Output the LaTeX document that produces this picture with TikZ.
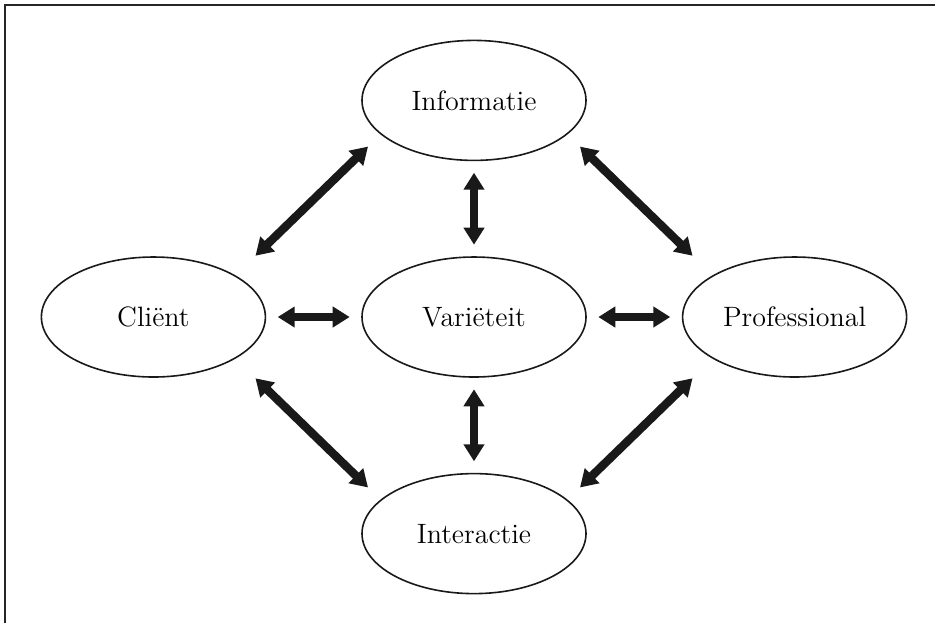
\documentclass[tikz,border=0pt]{standalone}
\usetikzlibrary{shapes.geometric, arrows.meta, positioning}
\tikzset{
    % Shapes
    blob/.style={ellipse, draw=black!90, line width=0.8pt, inner sep=0pt,
                 minimum width=112pt, minimum height=60pt,
                 font=\fontsize{14}{17}\selectfont},
    % Arrows
    link/.style={{Triangle[width=10pt,length=8.5pt]}-{Triangle[width=10pt,length=8.5pt]},
                 line width=4.2pt, draw=black!90, shorten <=5.75pt, shorten >=5.75pt},
    frame/.style={line width=1pt, draw=black!85}
}

\begin{document}
\begin{tikzpicture}[x=0.5pt, y=-0.5pt, node distance=47.5pt]
\useasboundingbox (0,0) rectangle (935,623);

% Frame (top and left only)
\draw[frame] (4.5,623) -- (4.5,4.5) -- (935,4.5);

\node[blob] (var) at (474,317) {Variëteit};
\node[blob, above=of var] (info) {Informatie};
\node[blob, below=of var] (inter) {Interactie};
\node[blob, left=of var] (client) {Cliënt};
\node[blob, right=of var] (prof) {Professional};

\draw[link] (info) -- (var);
\draw[link] (var) -- (inter);
\draw[link] (client) -- (var);
\draw[link] (var) -- (prof);

\draw[link, shorten <=14pt, shorten >=8.7pt] (client.27) -- (info.200);
\draw[link, shorten <=8.7pt, shorten >=14pt] (info.340) -- (prof.153);
\draw[link, shorten <=14pt, shorten >=8.7pt] (client.-27) -- (inter.160);
\draw[link, shorten <=8.7pt, shorten >=14pt] (inter.20) -- (prof.207);

\end{tikzpicture}
\end{document}
